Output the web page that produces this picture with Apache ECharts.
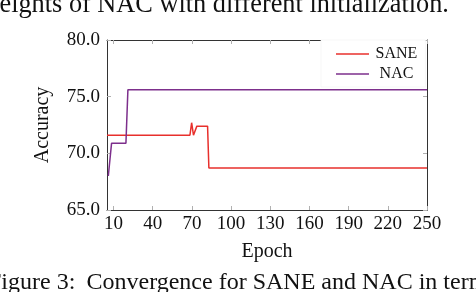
<!DOCTYPE html>
<html>
<head>
<meta charset="utf-8">
<script src="https://cdn.jsdelivr.net/npm/echarts@6/dist/echarts.min.js"></script>
<style>
html,body{margin:0;padding:0;background:#fff;}
#chart{width:476px;height:292px;}
</style>
</head>
<body>
<div id="chart"></div>
<script>
const xTicks = [10, 40, 70, 100, 130, 160, 190, 220, 250];
const yTicks = [65, 70, 75, 80];
const saneEpochs = [5, 68.5, 69.8, 71.2, 72.5, 73.8, 82, 83, 250];
const saneAcc = [71.6, 71.6, 72.7, 71.6, 71.6, 72.4, 72.4, 68.7, 68.7];
const nacEpochs = [6, 7.5, 8.5, 19.5, 21, 250];
const nacAcc = [68.0, 68.0, 70.9, 70.9, 75.6, 75.6];
const seriesNames = ['SANE', 'NAC'];
const captionTop = 'weights of NAC with different initialization.';
const captionFig = 'Figure 3:';
const captionBottom = 'Convergence for SANE and NAC in terms';

const font = 'Liberation Serif';
const chart = echarts.init(document.getElementById('chart'));
const pair = (xs, ys) => xs.map((x, i) => [x, ys[i]]);
const tickStyle = {show: true, inside: true, length: 4, lineStyle: {color: '#b0b0b0', width: 1}, customValues: xTicks};
const yTickStyle = {show: true, inside: true, length: 4, lineStyle: {color: '#b0b0b0', width: 1}};
const frame = {show: true, lineStyle: {color: '#333', width: 1}};

chart.setOption({
  animation: false,
  textStyle: {fontFamily: font},
  grid: {left: 107, right: 49, top: 40, bottom: 82},
  xAxis: [
    {type: 'value', min: 5, max: 250, position: 'bottom',
     name: 'Epoch', nameLocation: 'middle', nameGap: 32,
     nameTextStyle: {fontFamily: font, fontSize: 20, color: '#111'},
     axisLine: frame, axisTick: tickStyle,
     axisLabel: {customValues: xTicks, fontFamily: font, fontSize: 19, color: '#111', margin: 5},
     splitLine: {show: false}},
    {type: 'value', min: 5, max: 250, position: 'top',
     axisLine: frame, axisTick: tickStyle, axisLabel: {show: false}, splitLine: {show: false}}
  ],
  yAxis: [
    {type: 'value', min: 65, max: 80, interval: 5, position: 'left',
     name: 'Accuracy', nameLocation: 'middle', nameGap: 54, nameRotate: 90,
     nameTextStyle: {fontFamily: font, fontSize: 20, color: '#111'},
     axisLine: frame, axisTick: yTickStyle,
     axisLabel: {formatter: v => v.toFixed(1), fontFamily: font, fontSize: 19, color: '#111', margin: 7},
     splitLine: {show: false}},
    {type: 'value', min: 65, max: 80, interval: 5, position: 'right',
     axisLine: frame, axisTick: yTickStyle,
     axisLabel: {show: false}, splitLine: {show: false}}
  ],
  legend: {
    orient: 'vertical', left: 321, top: 40,
    backgroundColor: '#fff', borderColor: '#f2f2f2', borderWidth: 0.6,
    padding: [6, 8, 5, 15], itemGap: 4,
    icon: 'rect', itemWidth: 33, itemHeight: 1.6,
    formatter: name => '{c|' + name + '}',
    textStyle: {fontFamily: font, fontSize: 16, color: '#111',
      rich: {c: {width: 45, align: 'center', fontFamily: font, fontSize: 16, color: '#111'}}},
    data: seriesNames
  },
  series: [
    {name: seriesNames[0], type: 'line', data: pair(saneEpochs, saneAcc), showSymbol: false, symbol: 'none',
     lineStyle: {color: '#e8302c', width: 1.5}, itemStyle: {color: '#e8302c'}},
    {name: seriesNames[1], type: 'line', data: pair(nacEpochs, nacAcc), showSymbol: false, symbol: 'none',
     lineStyle: {color: '#7d2f8c', width: 1.5}, itemStyle: {color: '#7d2f8c'}}
  ],
  graphic: [
    {type: 'text', x: -19.5, y: 5, style: {text: captionTop, font: '26.3px "Liberation Serif"', fill: '#111', verticalAlign: 'middle'}},
    {type: 'text', x: -12, y: 283, style: {text: captionFig, font: '24px "Liberation Serif"', fill: '#111', verticalAlign: 'middle'}},
    {type: 'text', x: 86.5, y: 283, style: {text: captionBottom, font: '24px "Liberation Serif"', fill: '#111', verticalAlign: 'middle'}}
  ]
});
</script>
</body>
</html>
